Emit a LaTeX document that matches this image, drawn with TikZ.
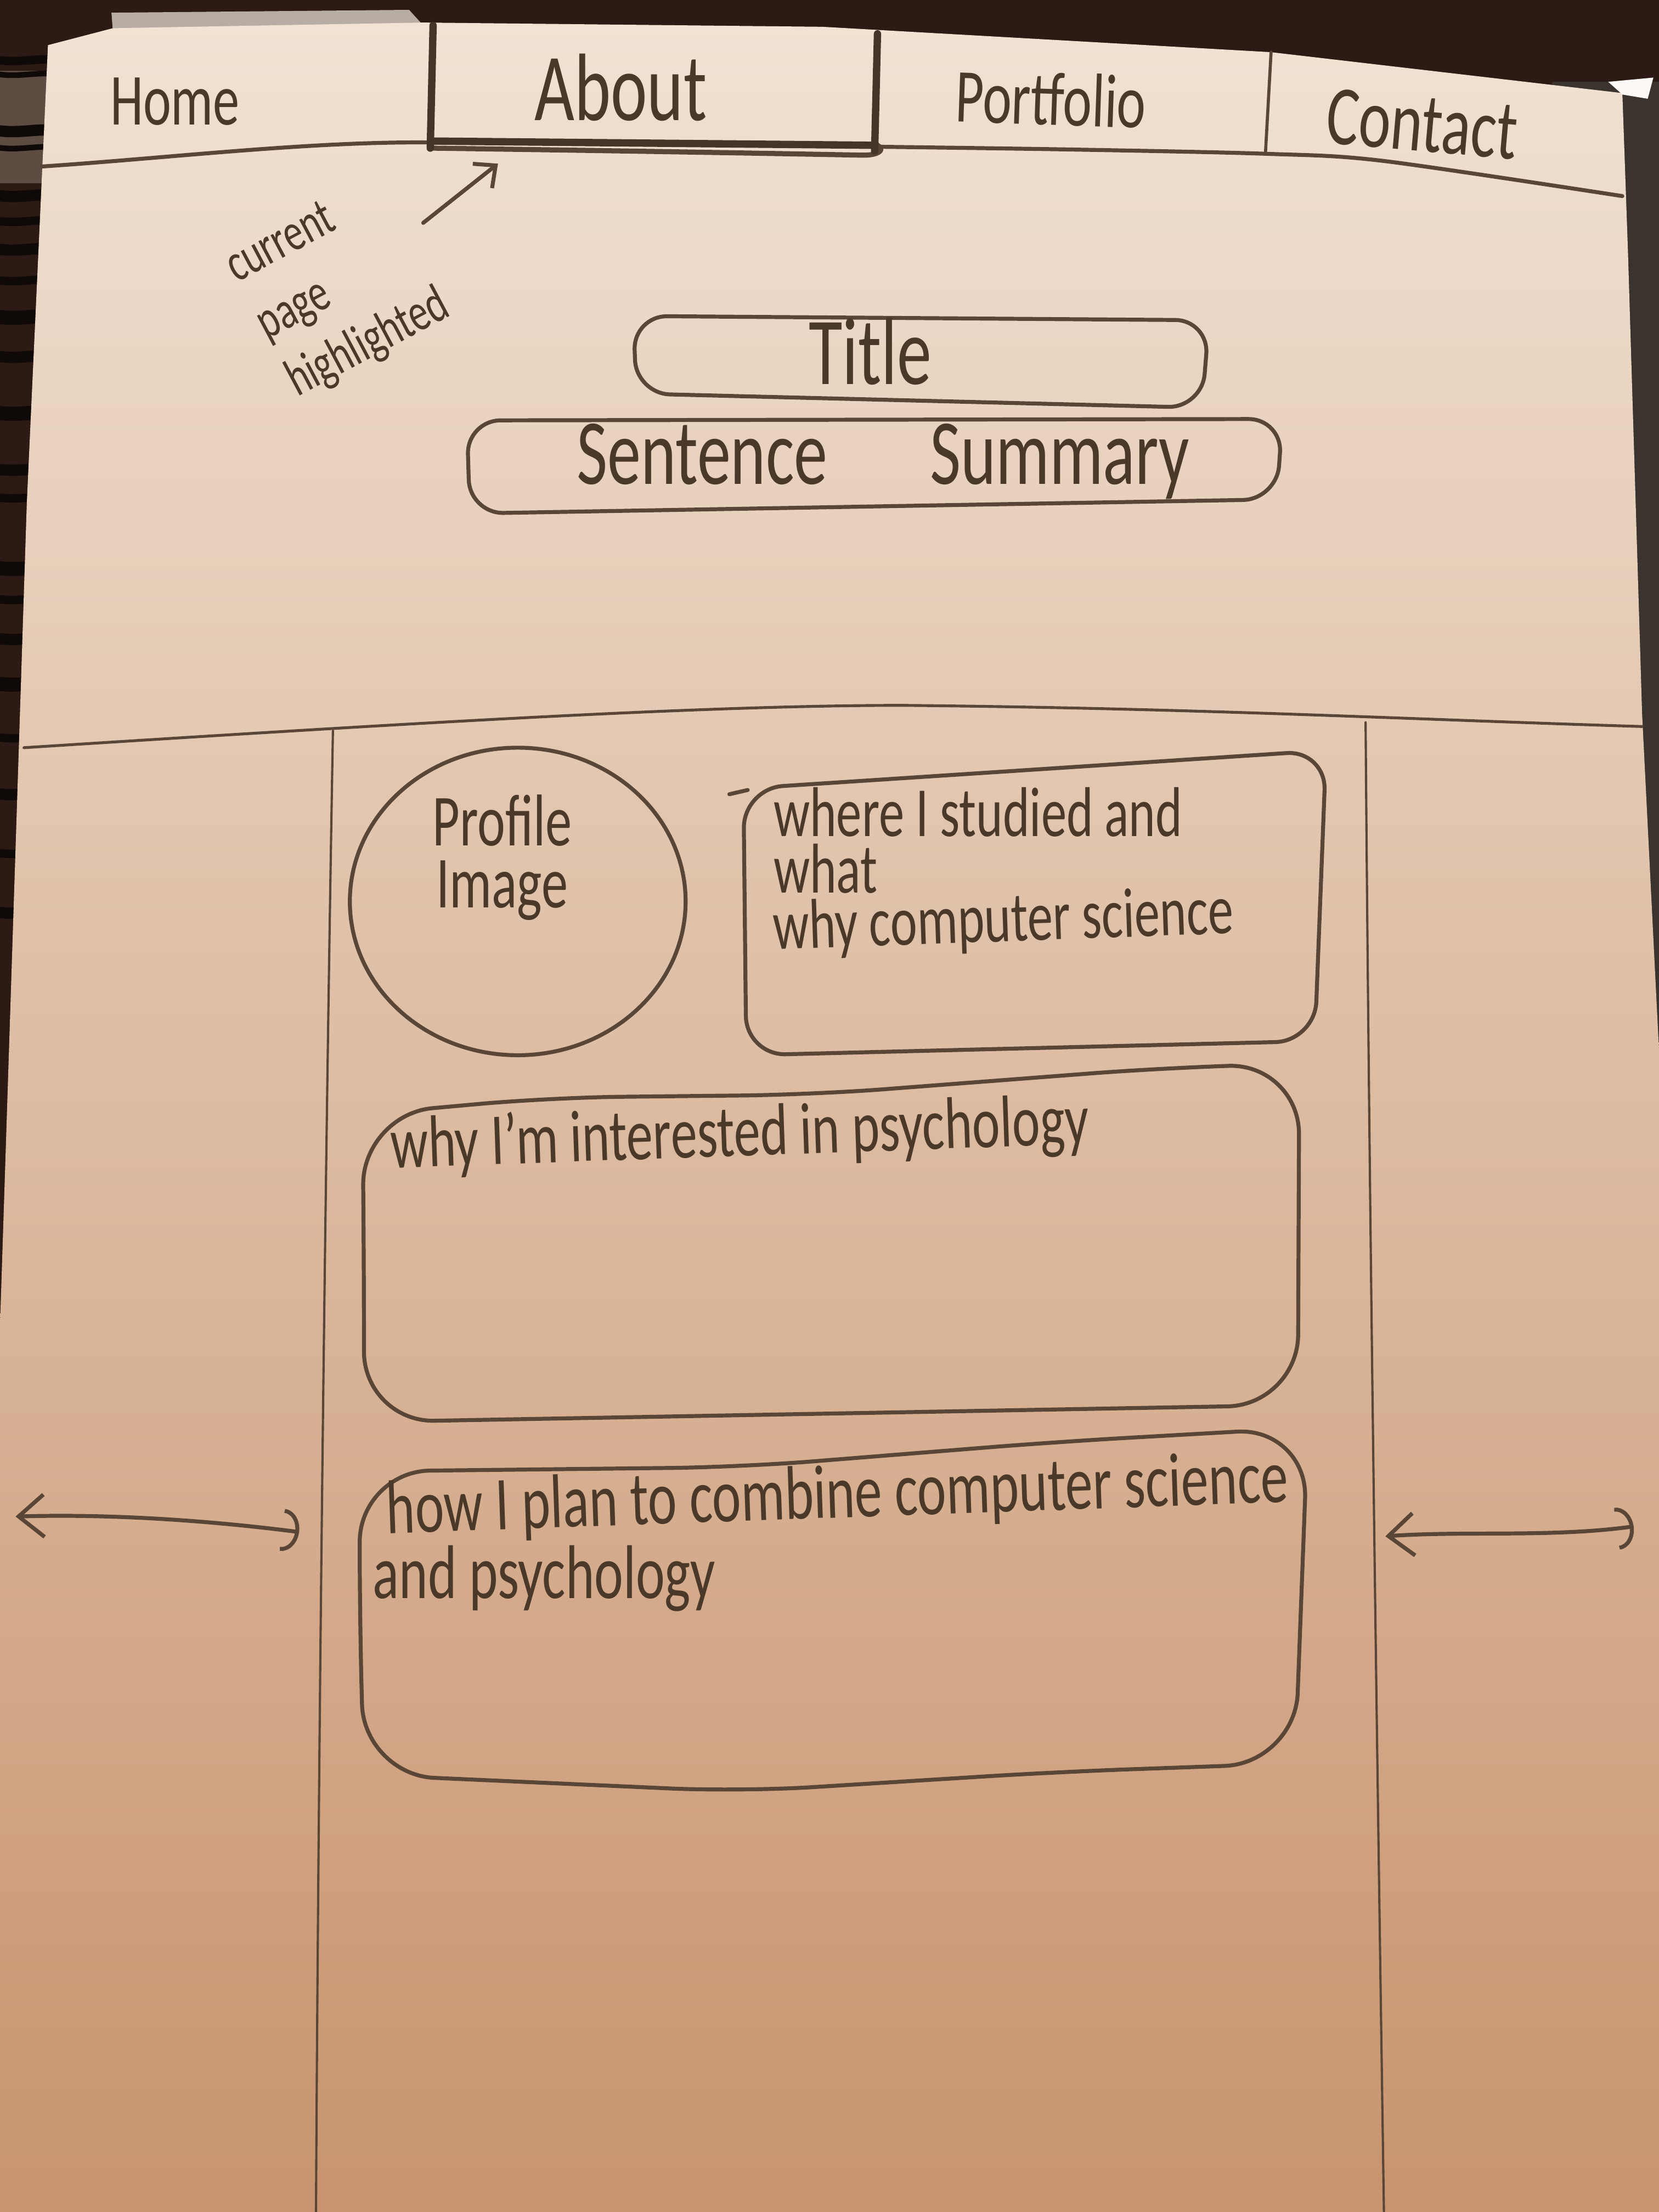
\documentclass[tikz,border=0pt]{standalone}
\usepackage{fontspec}
\setmainfont{Carlito}[FakeStretch=0.72]
\usetikzlibrary{arrows.meta}

\definecolor{bgdark}{HTML}{2E1A14}
\definecolor{bgright}{HTML}{3A332E}
\definecolor{bgleft}{HTML}{5E4C42}
\definecolor{cord}{HTML}{0F0A08}
\definecolor{sheet}{HTML}{B8ADA4}
\definecolor{paperTop}{HTML}{F1E2D3}
\definecolor{paperMid}{HTML}{E4C8AE}
\definecolor{paperBot}{HTML}{C8946F}
\definecolor{pencil}{HTML}{5A4636}
\definecolor{ink}{HTML}{4A3829}

\tikzset{
  pencil/.style={draw=pencil, line width=1.4pt, line cap=round, line join=round},
  heavy/.style={draw=pencil!75!black, line width=2.6pt, line cap=round},
  faint/.style={draw=pencil, line width=0.8pt, line cap=round},
  hand/.style={text=ink, inner sep=0pt},
  cordline/.style={draw=cord, line width=3pt, line cap=round},
  barbs/.style={pencil, {Straight Barb[length=9pt,width=15pt]}-{Arc Barb[length=6pt,width=15pt]}},
  tip/.style={pencil, -{Straight Barb[length=6pt,width=11pt]}},
}
\newcommand{\hw}[1]{\fontsize{#1}{#1}\selectfont}

\begin{document}
\begin{tikzpicture}[x=0.5pt,y=-0.5pt]
\useasboundingbox (0,0) rectangle (1176,1568);

% table behind the sheet
\fill[bgdark] (0,0) rectangle (1176,1568);
\fill[bgright] (1100,58) rectangle (1176,800);
\fill[bgleft] (0,50) rectangle (40,130);
\fill[sheet] (79,9) -- (290,7) -- (300,18) -- (80,22) -- cycle;
\foreach \y/\w in {42/3, 52/2, 92/4, 104/2, 138/4, 156/3, 176/4, 198/3, 224/5, 252/4, 292/5, 332/4, 352/3, 402/5, 424/3, 452/4, 484/5, 522/3, 562/4, 604/3, 646/4}
  \draw[cordline, line width=\w pt] (-5,\y) .. controls (15,\y+4) and (30,\y-3) .. (45,\y+2);

% the sheet of paper
\shade[top color=paperTop, middle color=paperMid, bottom color=paperBot]
  (34,32) -- (80,20) -- (300,16) -- (583,19) -- (901,37) -- (1150,66)
  -- (1154,179) -- (1164,506) -- (1176,745) -- (1176,1568) -- (0,1568)
  -- (0,940) -- (19,357) -- cycle;
\fill[white!80!paperTop] (1140,58) -- (1172,55) -- (1168,70) -- (1150,67) -- cycle;

% navigation bar
\draw[pencil] (30,118) .. controls (120,112) and (220,100) .. (306,101);
\draw[pencil] plot[smooth] coordinates {(621,104) (760,106) (897,109) (980,114) (1150,139)};
\draw[heavy] (306,100) -- (621,103);
\draw[pencil, line width=1.8pt] (306,105) .. controls (450,107) and (560,109) .. (612,110)
  .. controls (626,110) and (627,104) .. (621,103);
\draw[heavy] (307,18) -- (305,105);
\draw[heavy] (622,24) -- (620,107);
\draw[pencil, line width=1.1pt] (901,37) -- (897,109);

\node[hand, font=\hw{26}] (home) at (124,72) {Home};
\node[hand, font=\hw{34}] (about) at (440,62) {About};
\node[hand, font=\hw{27}, rotate=-2] (portfolio) at (745,70) {Portfolio};
\node[hand, font=\hw{30}, rotate=-5] (contact) at (1008,88) {Contact};

% note about the highlighted tab
\node[hand, font=\fontsize{19}{23}\selectfont, align=left, rotate=28] (note) at (240,204)
  {current\\page\\highlighted};
\coordinate (noteTail) at (300,158);
\coordinate (tabMark) at (353,116);
\draw[tip] (noteTail) -- (tabMark);

% title and summary
\draw[pencil, rounded corners=12] (449,224) -- (857,227) -- (852,289) -- (451,279) -- cycle;
\node[hand, font=\hw{34}] (title) at (617,249) {Title};
\draw[pencil, rounded corners=12] (331,298) -- (909,297) -- (905,354) -- (333,364) -- cycle;
\node[hand, font=\hw{33}] (summary) at (626,327) {Sentence\hspace{1.1em}Summary};

% page body: divider and columns
\draw[pencil, line width=1pt] (17,530) .. controls (300,512) and (500,500) .. (640,500)
  .. controls (850,502) and (1000,510) .. (1164,515);
\draw[faint] (236,518) .. controls (231,800) and (226,1200) .. (224,1568);
\draw[faint] (968,512) .. controls (971,900) and (977,1300) .. (981,1568);

% profile picture
\draw[pencil] (367,639) ellipse [x radius=119, y radius=109];
\node[hand, font=\fontsize{26}{22}\selectfont, align=center] (profile) at (356,608) {Profile\\Image};

% studies box
\draw[pencil, rounded corners=14] (529,748) -- (527,559) -- (940,532) -- (932,738) -- cycle;
\draw[pencil] (517,563) -- (530,560);
\node[hand, font=\hw{25}, anchor=base west] (studyA) at (548,593) {where I studied and};
\node[hand, font=\hw{25}, anchor=base west] (studyB) at (548,633) {what};
\node[hand, font=\hw{25}, anchor=base west, rotate=2] (studyC) at (548,673) {why computer science};

% psychology box
\draw[pencil, rounded corners=25] (258,900) -- (257,790) -- (390,778) -- (576,776)
  -- (824,757) -- (921,754) -- (920,996) -- (258,1008) -- cycle;
\node[hand, font=\hw{26}, anchor=base west, rotate=2] (interest) at (277,828)
  {why I'm interested in psychology};

% combination box
\draw[pencil, rounded corners=25] (255,1150) -- (255,1043) -- (525,1040) -- (750,1022)
  -- (927,1012) -- (918,1250) -- (750,1256) -- (525,1270) -- (258,1258) -- cycle;
\node[hand, font=\hw{27}, anchor=base west, rotate=2] (planA) at (274,1087)
  {how I plan to combine computer science};
\node[hand, font=\hw{27}, anchor=base west] (planB) at (264,1133) {and psychology};

% flexible-width hints
\coordinate (leftA) at (11,1075);
\coordinate (leftB) at (212,1086);
\draw[barbs] (leftA) .. controls (80,1073) and (150,1078) .. (leftB);
\coordinate (rightA) at (982,1089);
\coordinate (rightB) at (1158,1082);
\draw[barbs] (rightA) .. controls (1040,1085) and (1100,1090) .. (rightB);
\end{tikzpicture}
\end{document}
